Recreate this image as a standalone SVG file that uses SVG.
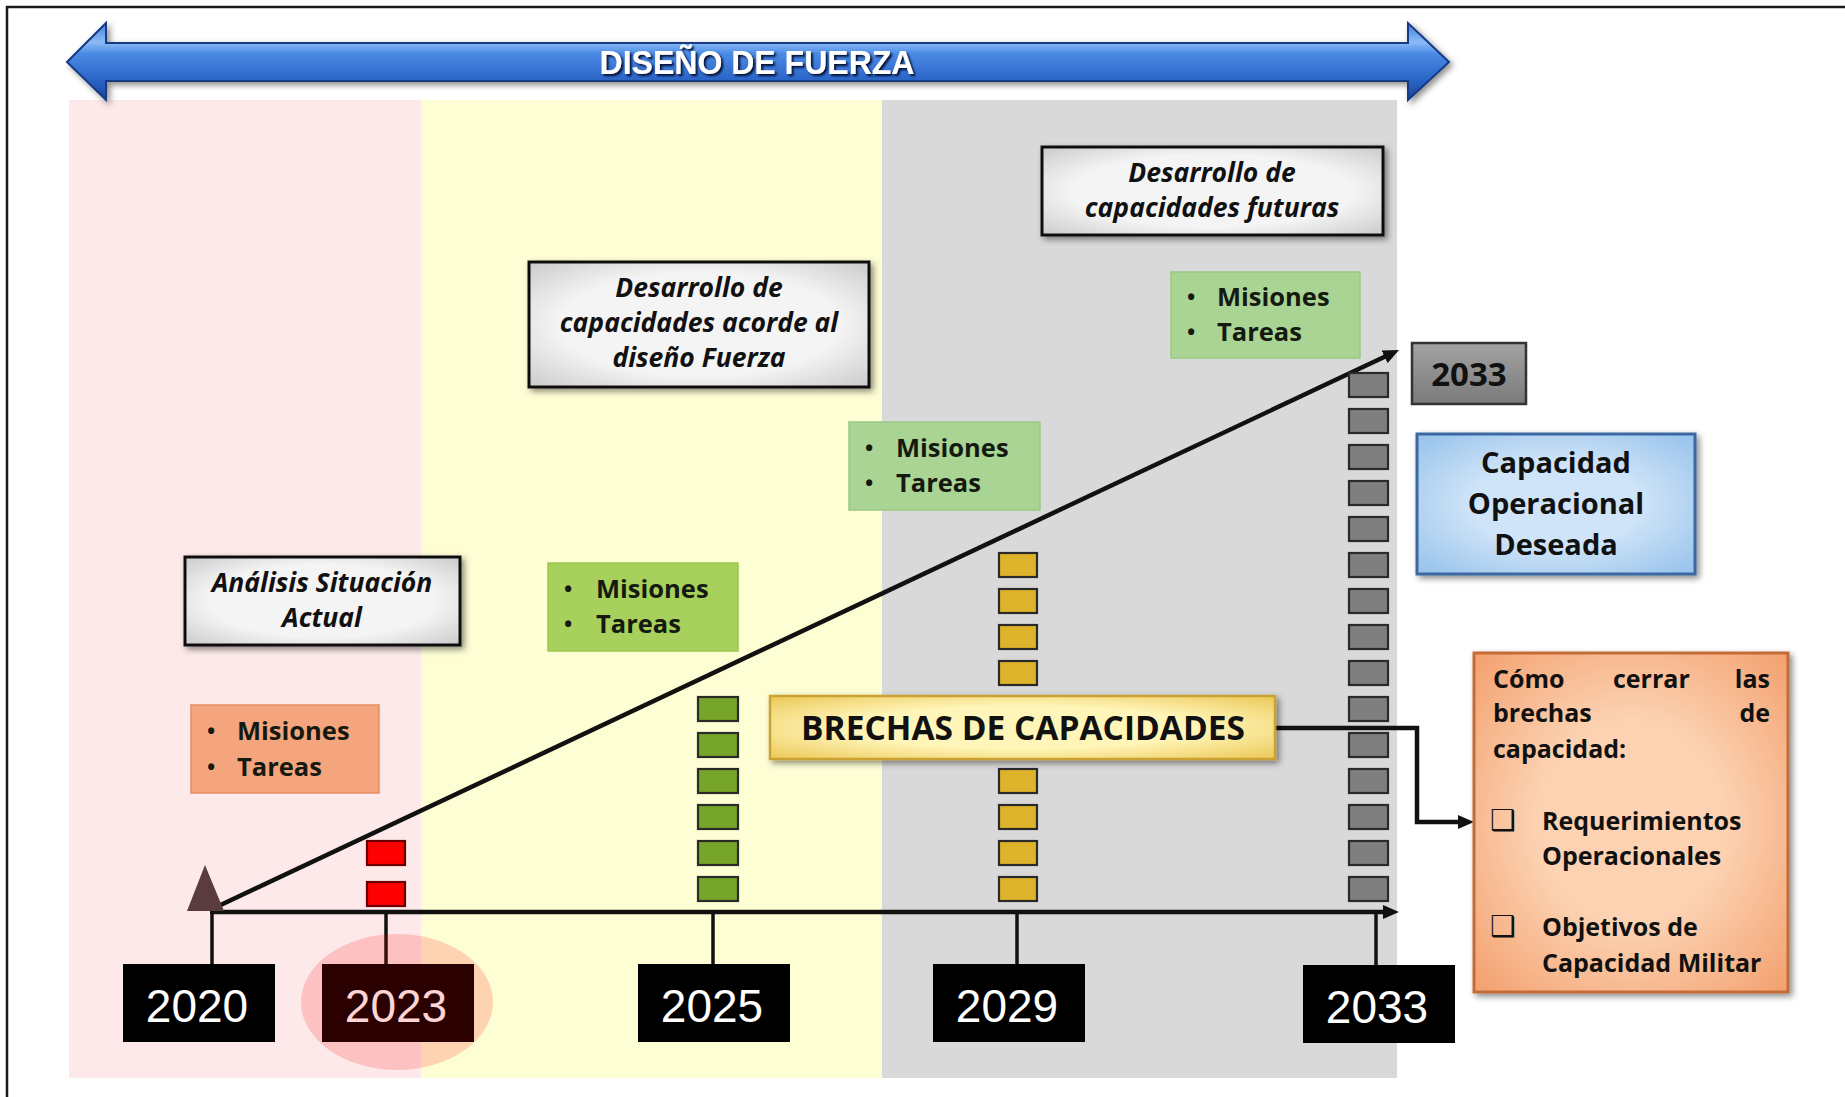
<svg xmlns="http://www.w3.org/2000/svg" width="1845" height="1097" viewBox="0 0 1845 1097">
<defs>
  <style>
    .frame{stroke:#1a1a1a;stroke-width:2.5;fill:none}
    .ttl{font-family:"Open Sans","Liberation Sans",sans-serif;font-weight:bold;font-style:italic;font-size:26.5px;fill:#111;text-anchor:middle}
    .lst{font-family:"Open Sans","Liberation Sans",sans-serif;font-weight:bold;font-size:25.5px;fill:#151a10}
    .bul{font-family:"Open Sans","Liberation Sans",sans-serif;font-weight:bold;font-size:22px;fill:#151a10}
    .yr{font-family:"Liberation Sans",Arial,sans-serif;font-size:46px;fill:#fff;text-anchor:middle}
    .yrbox{fill:#000}
    .tick{stroke:#111;stroke-width:3.5;fill:none}
    .conn{stroke:#111;stroke-width:4.5;fill:none}
    .sq{stroke:#2a2a2a;stroke-width:2.2}
    .red{fill:#ff0000;stroke:#6a0000}
    .grn{fill:#76a52a}
    .gld{fill:#ddb32b}
    .gry{fill:#7f7f7f}
    .bold{font-family:"Open Sans","Liberation Sans",sans-serif;font-weight:bold;fill:#111}
    .chk{font-family:"DejaVu Sans",sans-serif;font-size:29px;font-weight:bold;fill:#111}
  </style>
  <linearGradient id="gBlue" x1="0" y1="0" x2="0" y2="1">
    <stop offset="0" stop-color="#3f7fdc"/>
    <stop offset="0.25" stop-color="#8cbcf6"/>
    <stop offset="0.4" stop-color="#4a8ae4"/>
    <stop offset="0.75" stop-color="#2a63c6"/>
    <stop offset="1" stop-color="#1a4298"/>
  </linearGradient>
  <radialGradient id="gGray" cx="0.5" cy="0.5" r="0.75">
    <stop offset="0.55" stop-color="#f4f4f4"/>
    <stop offset="1" stop-color="#c4c4c4"/>
  </radialGradient>
  <radialGradient id="gGold" cx="0.5" cy="0.5" r="0.75">
    <stop offset="0.45" stop-color="#fff5b8"/>
    <stop offset="1" stop-color="#e9c24a"/>
  </radialGradient>
  <radialGradient id="gPeach" cx="0.5" cy="0.5" r="0.75">
    <stop offset="0.4" stop-color="#fcd2b2"/>
    <stop offset="1" stop-color="#f29a66"/>
  </radialGradient>
  <radialGradient id="gSky" cx="0.5" cy="0.5" r="0.75">
    <stop offset="0.4" stop-color="#cfe4f8"/>
    <stop offset="1" stop-color="#8dbde9"/>
  </radialGradient>
  <linearGradient id="gDark" x1="0" y1="0" x2="0" y2="1">
    <stop offset="0" stop-color="#a3a3a3"/>
    <stop offset="1" stop-color="#7a7a7a"/>
  </linearGradient>
  <filter id="shadow" x="-10%" y="-20%" width="125%" height="150%">
    <feDropShadow dx="3" dy="3" stdDeviation="3" flood-color="#000" flood-opacity="0.45"/>
  </filter>
  <filter id="tshadow" x="-5%" y="-30%" width="110%" height="160%">
    <feDropShadow dx="2" dy="2" stdDeviation="0.8" flood-color="#061030" flood-opacity="1"/>
  </filter>
  <marker id="arr" viewBox="0 0 16 14" refX="6" refY="7" markerWidth="16" markerHeight="14" markerUnits="userSpaceOnUse" orient="auto">
    <path d="M0,0 L16,7 L0,14 Z" fill="#111"/>
  </marker>
</defs>

<rect x="0" y="0" width="1845" height="1097" fill="#fff"/>
<path class="frame" d="M7,1097 L7,7 L1845,7"/>

<!-- background bands -->
<g id="bands">
  <rect x="69" y="100" width="352" height="978" fill="#fde9e9"/>
  <rect x="421" y="100" width="461" height="978" fill="#fefed5"/>
  <rect x="882" y="100" width="515" height="978" fill="#d9d9d9"/>
</g>

<!-- top double arrow -->
<g id="diseno-fuerza">
  <path d="M67,62 L106,23 L106,43 L1408,43 L1408,23 L1449,62 L1408,100 L1408,81 L106,81 L106,100 Z" fill="url(#gBlue)" stroke="#163a84" stroke-width="2" filter="url(#shadow)"/>
  <text x="757" y="74" font-family="Liberation Sans, Arial, sans-serif" font-weight="bold" font-size="34" fill="#fff" text-anchor="middle" textLength="315" lengthAdjust="spacingAndGlyphs" filter="url(#tshadow)">DISEÑO DE FUERZA</text>
</g>

<!-- connectors -->
<g id="connectors">
  <line class="conn" x1="210" y1="912" x2="1389" y2="912" marker-end="url(#arr)"/>
  <line class="conn" x1="210" y1="910" x2="1390" y2="354.3" marker-end="url(#arr)"/>
  <polyline class="conn" points="1275,728 1417,728 1417,822 1464,822" marker-end="url(#arr)"/>
  <line class="tick" x1="212" y1="912" x2="212" y2="966"/>
  <line class="tick" x1="386" y1="912" x2="386" y2="966"/>
  <line class="tick" x1="713" y1="912" x2="713" y2="966"/>
  <line class="tick" x1="1017" y1="912" x2="1017" y2="966"/>
  <line class="tick" x1="1376" y1="912" x2="1376" y2="966"/>
</g>

<g id="start-triangle">
  <polygon points="205,865 187,911 224,911" fill="#5a3c3c"/>
</g>

<!-- squares -->
<g id="squares-2023">
  <rect class="sq red" x="367" y="841" width="38" height="24"/>
  <rect class="sq red" x="367" y="882" width="38" height="24"/>
</g>
<g id="squares-2025">
  <rect class="sq grn" x="698" y="697" width="40" height="24"/>
  <rect class="sq grn" x="698" y="733" width="40" height="24"/>
  <rect class="sq grn" x="698" y="769" width="40" height="24"/>
  <rect class="sq grn" x="698" y="805" width="40" height="24"/>
  <rect class="sq grn" x="698" y="841" width="40" height="24"/>
  <rect class="sq grn" x="698" y="877" width="40" height="24"/>
</g>
<g id="squares-2029">
  <rect class="sq gld" x="999" y="553" width="38" height="24"/>
  <rect class="sq gld" x="999" y="589" width="38" height="24"/>
  <rect class="sq gld" x="999" y="625" width="38" height="24"/>
  <rect class="sq gld" x="999" y="661" width="38" height="24"/>
  <rect class="sq gld" x="999" y="769" width="38" height="24"/>
  <rect class="sq gld" x="999" y="805" width="38" height="24"/>
  <rect class="sq gld" x="999" y="841" width="38" height="24"/>
  <rect class="sq gld" x="999" y="877" width="38" height="24"/>
</g>
<g id="squares-2033">
  <rect class="sq gry" x="1349" y="373" width="39" height="24"/>
  <rect class="sq gry" x="1349" y="409" width="39" height="24"/>
  <rect class="sq gry" x="1349" y="445" width="39" height="24"/>
  <rect class="sq gry" x="1349" y="481" width="39" height="24"/>
  <rect class="sq gry" x="1349" y="517" width="39" height="24"/>
  <rect class="sq gry" x="1349" y="553" width="39" height="24"/>
  <rect class="sq gry" x="1349" y="589" width="39" height="24"/>
  <rect class="sq gry" x="1349" y="625" width="39" height="24"/>
  <rect class="sq gry" x="1349" y="661" width="39" height="24"/>
  <rect class="sq gry" x="1349" y="697" width="39" height="24"/>
  <rect class="sq gry" x="1349" y="733" width="39" height="24"/>
  <rect class="sq gry" x="1349" y="769" width="39" height="24"/>
  <rect class="sq gry" x="1349" y="805" width="39" height="24"/>
  <rect class="sq gry" x="1349" y="841" width="39" height="24"/>
  <rect class="sq gry" x="1349" y="877" width="39" height="24"/>
</g>

<!-- gray title boxes -->
<g id="analisis">
  <rect x="185" y="557" width="275" height="88" fill="url(#gGray)" stroke="#111" stroke-width="3" filter="url(#shadow)"/>
  <text class="ttl" x="322" y="592">Análisis Situación</text>
  <text class="ttl" x="322" y="627">Actual</text>
</g>
<g id="desarrollo-acorde">
  <rect x="529" y="262" width="340" height="125" fill="url(#gGray)" stroke="#111" stroke-width="3" filter="url(#shadow)"/>
  <text class="ttl" x="699" y="297">Desarrollo de</text>
  <text class="ttl" x="699" y="332">capacidades acorde al</text>
  <text class="ttl" x="699" y="367">diseño Fuerza</text>
</g>
<g id="desarrollo-futuras">
  <rect x="1042" y="147" width="341" height="88" fill="url(#gGray)" stroke="#111" stroke-width="3" filter="url(#shadow)"/>
  <text class="ttl" x="1212" y="182">Desarrollo de</text>
  <text class="ttl" x="1212" y="217">capacidades futuras</text>
</g>

<!-- mission lists -->
<g id="lista-2020">
  <rect x="191" y="705" width="188" height="88" fill="#f5a57d" stroke="#e58d62" stroke-width="1.5"/>
  <text class="bul" x="207" y="739">•</text><text class="lst" x="237" y="740">Misiones</text>
  <text class="bul" x="207" y="775">•</text><text class="lst" x="237" y="776">Tareas</text>
</g>
<g id="lista-2025">
  <rect x="548" y="563" width="190" height="88" fill="#a8d05c" stroke="#9cc64e" stroke-width="1.5"/>
  <text class="bul" x="564" y="597">•</text><text class="lst" x="596" y="598">Misiones</text>
  <text class="bul" x="564" y="632">•</text><text class="lst" x="596" y="633">Tareas</text>
</g>
<g id="lista-2029">
  <rect x="849" y="422" width="191" height="88" fill="#a9d494" stroke="#9bc886" stroke-width="1.5"/>
  <text class="bul" x="865" y="456">•</text><text class="lst" x="896" y="457">Misiones</text>
  <text class="bul" x="865" y="491">•</text><text class="lst" x="896" y="492">Tareas</text>
</g>
<g id="lista-2033">
  <rect x="1171" y="272" width="189" height="86" fill="#a9d494" stroke="#9bc886" stroke-width="1.5"/>
  <text class="bul" x="1187" y="305">•</text><text class="lst" x="1217" y="306">Misiones</text>
  <text class="bul" x="1187" y="340">•</text><text class="lst" x="1217" y="341">Tareas</text>
</g>

<!-- brechas -->
<g id="brechas">
  <rect x="770" y="696" width="505" height="63" fill="url(#gGold)" stroke="#c9a233" stroke-width="2.5" filter="url(#shadow)"/>
  <text class="bold" x="1023" y="740" font-size="33.5" text-anchor="middle">BRECHAS DE CAPACIDADES</text>
</g>

<!-- 2033 label -->
<g id="label-2033">
  <rect x="1412" y="343" width="114" height="61" fill="url(#gDark)" stroke="#333" stroke-width="2.5"/>
  <text class="bold" x="1469" y="386" font-size="33" text-anchor="middle">2033</text>
</g>

<!-- capacidad operacional deseada -->
<g id="capacidad-deseada">
  <rect x="1417" y="434" width="278" height="140" fill="url(#gSky)" stroke="#3b68a0" stroke-width="3" filter="url(#shadow)"/>
  <text class="bold" x="1556" y="473" font-size="29" text-anchor="middle">Capacidad</text>
  <text class="bold" x="1556" y="514" font-size="29" text-anchor="middle">Operacional</text>
  <text class="bold" x="1556" y="555" font-size="29" text-anchor="middle">Deseada</text>
</g>

<!-- como cerrar -->
<g id="como-cerrar">
  <rect x="1474" y="653" width="314" height="339" fill="url(#gPeach)" stroke="#c46c38" stroke-width="3" filter="url(#shadow)"/>
  <text class="bold" font-size="25" y="688"><tspan x="1493">Cómo</tspan> <tspan x="1613">cerrar</tspan> <tspan x="1770" text-anchor="end">las</tspan></text>
  <text class="bold" font-size="25" y="722"><tspan x="1493">brechas</tspan> <tspan x="1770" text-anchor="end">de</tspan></text>
  <text class="bold" font-size="25" x="1493" y="758">capacidad:</text>
  <text class="chk" x="1490" y="830">❑</text>
  <text class="bold" font-size="25" x="1542" y="830">Requerimientos</text>
  <text class="bold" font-size="25" x="1542" y="865">Operacionales</text>
  <text class="chk" x="1490" y="936">❑</text>
  <text class="bold" font-size="25" x="1542" y="936">Objetivos de</text>
  <text class="bold" font-size="25" x="1542" y="972">Capacidad Militar</text>
</g>

<!-- year boxes -->
<g id="year-2020"><rect class="yrbox" x="123" y="964" width="152" height="78"/><text class="yr" x="197" y="1022">2020</text></g>
<g id="year-2023"><rect class="yrbox" x="322" y="964" width="152" height="78"/><text class="yr" x="396" y="1022">2023</text></g>
<g id="year-2025"><rect class="yrbox" x="638" y="964" width="152" height="78"/><text class="yr" x="712" y="1022">2025</text></g>
<g id="year-2029"><rect class="yrbox" x="933" y="964" width="152" height="78"/><text class="yr" x="1007" y="1022">2029</text></g>
<g id="year-2033"><rect class="yrbox" x="1303" y="965" width="152" height="78"/><text class="yr" x="1377" y="1023">2033</text></g>

<g id="highlight-2023">
  <ellipse cx="397" cy="1002" rx="96" ry="68" fill="#ff0000" fill-opacity="0.17"/>
</g>
</svg>
